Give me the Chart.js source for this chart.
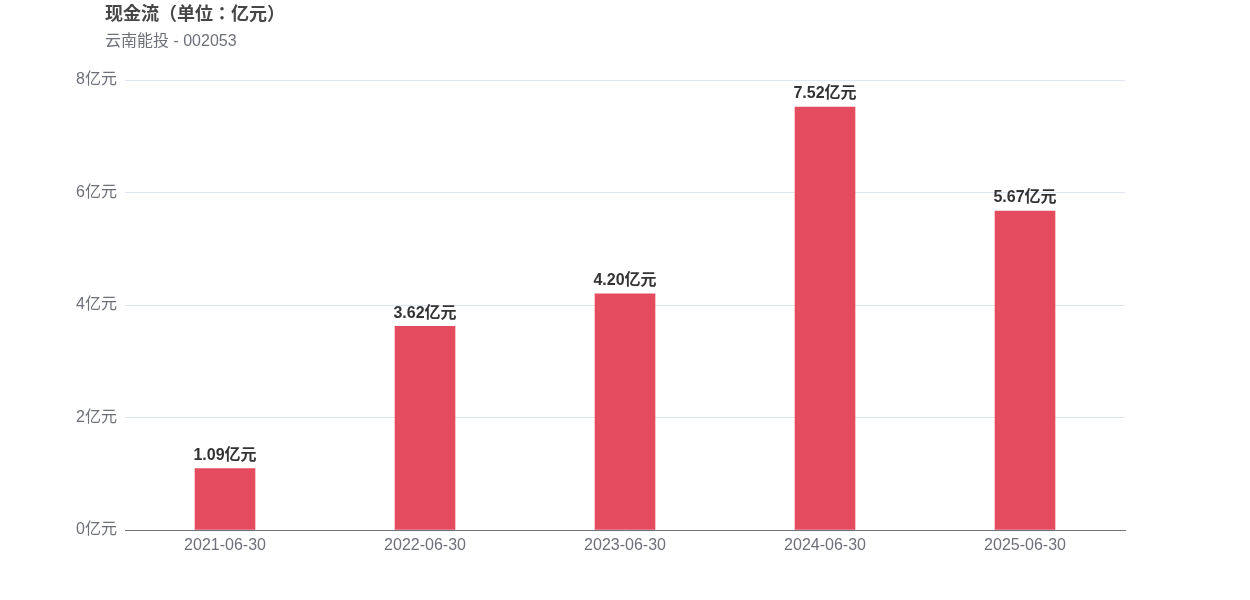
<!DOCTYPE html>
<html>
<head>
<meta charset="utf-8">
<script src="https://cdn.jsdelivr.net/npm/chart.js@4"></script>
<style>
  body { margin: 0; background: #fff; font-family: "Liberation Sans", "Noto Sans CJK SC", sans-serif; }
  #wrap { position: relative; width: 1250px; height: 600px; }
  #title { position: absolute; left: 105px; top: -1px; font-size: 18px; font-weight: bold; color: #464646;
           font-family: "Liberation Sans", "Noto Sans CJK JP", sans-serif; }
  #sub { position: absolute; left: 105px; top: 27px; font-size: 16px; color: #6e7079; }
</style>
</head>
<body>
<div id="wrap">
  <canvas id="c" width="1250" height="600"></canvas>
  <div id="title">现金流（单位：亿元）</div>
  <div id="sub">云南能投 - 002053</div>
</div>
<script>
// 类目和数值
const periods = ['2021-06-30', '2022-06-30', '2023-06-30', '2024-06-30', '2025-06-30'];
const cashFlow = [1.09, 3.62, 4.20, 7.52, 5.67];
const yTicks = [0, 2, 4, 6, 8];

const FONT = '"Liberation Sans", "Noto Sans CJK SC", sans-serif';

// 柱顶数值标签
const valueLabels = {
    id: 'valueLabels',
    afterDatasetsDraw(chart) {
        const ctx = chart.ctx;
        const meta = chart.getDatasetMeta(0);
        ctx.save();
        ctx.font = 'bold 16px ' + FONT;
        ctx.fillStyle = '#333333';
        ctx.textAlign = 'center';
        ctx.textBaseline = 'middle';
        meta.data.forEach((bar, i) => {
            ctx.fillText(cashFlow[i].toFixed(2) + '亿元', bar.x, bar.y - 13);
        });
        ctx.restore();
    }
};

new Chart(document.getElementById('c'), {
    type: 'bar',
    data: {
        labels: periods,
        datasets: [{
            data: cashFlow,
            backgroundColor: '#e54b5f',
            barThickness: 60
        }]
    },
    options: {
        responsive: false,
        animation: false,
        layout: { padding: { top: 80, right: 125, bottom: 0, left: 0 } },
        plugins: { legend: { display: false }, tooltip: { enabled: false } },
        scales: {
            x: {
                grid: { display: false, drawTicks: false },
                border: { display: true, color: '#6e7079', width: 1 },
                ticks: { color: '#6e7079', font: { size: 16, family: FONT }, padding: 6, maxRotation: 0 },
                afterFit(scale) { scale.height = 70; }
            },
            y: {
                min: 0,
                max: 8,
                afterBuildTicks(scale) { scale.ticks = yTicks.map(v => ({ value: v })); },
                grid: { color: '#e0e6f1', drawTicks: false },
                border: { display: false },
                ticks: {
                    color: '#6e7079',
                    font: { size: 16, family: FONT },
                    padding: 8,
                    callback: v => v + '亿元'
                },
                afterFit(scale) { scale.width = 125; }
            }
        }
    },
    plugins: [valueLabels]
});
</script>
</body>
</html>
